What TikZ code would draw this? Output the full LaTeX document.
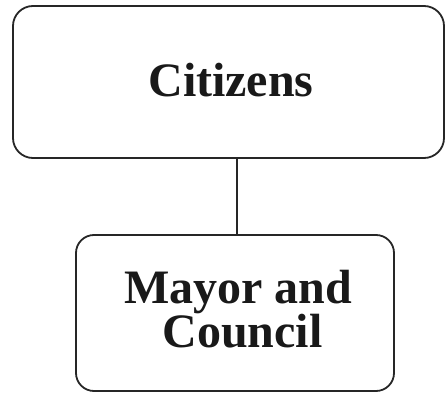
\documentclass[tikz,border=0pt]{standalone}
\usepackage{fontspec}
\setmainfont{Liberation Serif}
\begin{document}
\begin{tikzpicture}[x=1pt,y=-1pt,
  box/.style={draw=black!85, line width=1.8pt, rounded corners=20pt},
  lbl/.style={font=\bfseries\fontsize{48}{43}\selectfont, align=center, text=black!90}]
\useasboundingbox (0,0) rectangle (445,393);
\draw[box] (13,6) rectangle (444,158);
\node[lbl, anchor=base] (cit) at (231,97) {Citizens};
\draw[box, rounded corners=18pt] (76,235) rectangle (394,391);
\node[lbl] (may) at (238,309) {Mayor and\\ \hspace*{9pt}Council};
\coordinate (top) at (237,158);
\coordinate (bot) at (237,235);
\draw[line width=1.8pt, draw=black!85] (top) -- (bot);
\end{tikzpicture}
\end{document}
